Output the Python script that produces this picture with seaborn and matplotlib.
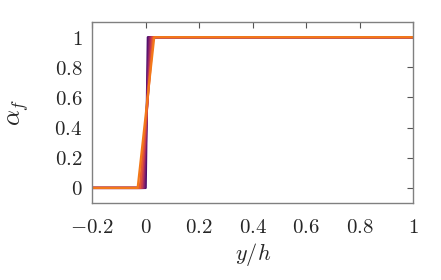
import numpy as np
import pandas as pd
import matplotlib
matplotlib.use("Agg")
import matplotlib.pyplot as plt
import seaborn as sns

# step profiles of alpha_f over y/h, one per time level
x_left = -0.2
x_right = 1.0
step_start = [0.000, -0.004, -0.008, -0.012, -0.016, -0.022, -0.030]
step_end = [0.008, 0.012, 0.016, 0.020, 0.024, 0.028, 0.032]
alpha_low = 0.0
alpha_high = 1.0

rows = []
for i, (s0, s1) in enumerate(zip(step_start, step_end)):
    for x, a in [(x_left, alpha_low), (s0, alpha_low), (s1, alpha_high), (x_right, alpha_high)]:
        rows.append({"y/h": x, "alpha": a, "run": i})
df = pd.DataFrame(rows)

sns.set_style("white")
plt.rcParams['mathtext.fontset'] = 'cm'
plt.rcParams['font.family'] = ['DejaVu Serif']

cmap = plt.get_cmap("inferno")
palette = [cmap(v) for v in np.linspace(0.22, 0.70, len(step_start))]

fig, ax = plt.subplots(figsize=(4.41, 2.80), dpi=100)
sns.lineplot(data=df, x="y/h", y="alpha", hue="run", palette=palette,
             linewidth=1.6, legend=False, sort=False, ax=ax, estimator=None)

ax.set_xlim(-0.2, 1.0)
ax.set_ylim(-0.1, 1.1)
xt = [-0.2, 0, 0.2, 0.4, 0.6, 0.8, 1]
yt = [0, 0.2, 0.4, 0.6, 0.8, 1]
ax.set_xticks(xt)
ax.set_yticks(yt)
ax.set_xticklabels([f"${v:g}$" for v in xt], fontsize=15)
ax.set_yticklabels([f"${v:g}$" for v in yt], fontsize=15)
ax.tick_params(direction="in", top=True, right=True, length=4, width=0.8,
               color="#555555")
ax.tick_params(axis="x", pad=11)
ax.tick_params(axis="y", pad=7)
for sp in ax.spines.values():
    sp.set_color("#808080")
    sp.set_linewidth(1.0)

ax.set_xlabel(r"$y/h$", fontsize=16, labelpad=3)
ax.set_ylabel(r"$\alpha_f$", fontsize=18, labelpad=17)

fig.subplots_adjust(left=0.209, right=0.937, top=0.921, bottom=0.275)
fig.savefig("out.png", dpi=100)
